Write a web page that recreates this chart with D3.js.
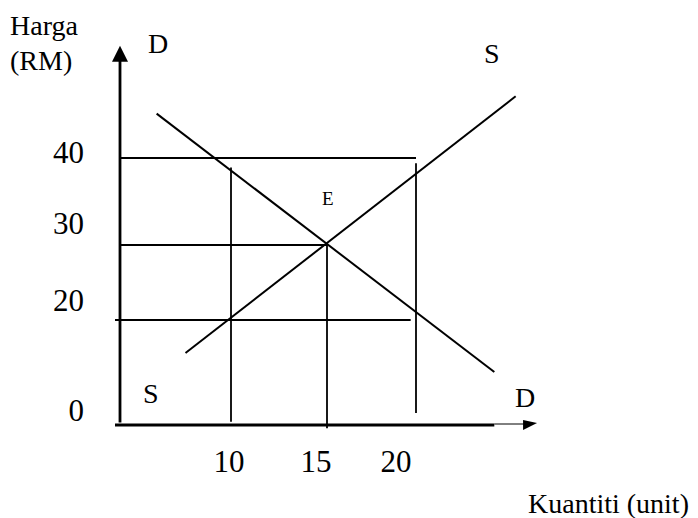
<!DOCTYPE html>
<html>
<head>
<meta charset="utf-8">
<script src="https://cdn.jsdelivr.net/npm/d3@7"></script>
<style>
  body { margin: 0; background: #fff; }
  svg text { font-family: "Liberation Serif", "Times New Roman", serif; fill: #000; }
</style>
</head>
<body>
<div id="chart"></div>
<script>
// tick values
var quantityTicks = [10, 15, 20];
var priceTicks = [0, 20, 30, 40];

// demand and supply lines (quantity, price at each end)
var demand = [{q: 3.3, p: 45.1}, {q: 24.4, p: 10.1}];
var supply = [{q: 5.9, p: 13.7}, {q: 25.6, p: 47.1}];

// dropped guide lines: price level with its quantity span, quantity level with its price span
var priceGuides = [
  {p: 40, from: 0, to: 20},
  {p: 30, from: 0, to: 15},
  {p: 20, from: -0.45, to: 19.7}
];
var quantityGuides = [
  {q: 10, from: 38.9, to: 0.6},
  {q: 15, from: 30, to: -0.6},
  {q: 20, from: 39.4, to: 2.3}
];

var width = 698,
    height = 518;

// hand drawn, so the spacing is not even
var x = d3.scaleLinear().domain([0, 10, 15, 20]).range([120, 231, 327, 416]);
var y = d3.scaleLinear().domain([0, 20, 30, 40]).range([425, 320, 245, 158]);

var svg = d3.select("#chart").append("svg")
    .attr("width", width)
    .attr("height", height);

var line = d3.line()
    .x(function(d) { return x(d.q); })
    .y(function(d) { return y(d.p); });

// guides
svg.selectAll(".hguide")
    .data(priceGuides)
    .enter().append("line")
    .attr("x1", function(d) { return x(d.from); })
    .attr("x2", function(d) { return x(d.to); })
    .attr("y1", function(d) { return y(d.p); })
    .attr("y2", function(d) { return y(d.p); })
    .attr("stroke", "#000")
    .attr("stroke-width", 1.8);

svg.selectAll(".vguide")
    .data(quantityGuides)
    .enter().append("line")
    .attr("x1", function(d) { return x(d.q); })
    .attr("x2", function(d) { return x(d.q); })
    .attr("y1", function(d) { return y(d.from); })
    .attr("y2", function(d) { return y(d.to); })
    .attr("stroke", "#000")
    .attr("stroke-width", 1.8);

// demand / supply
[demand, supply].forEach(function(s) {
  svg.append("path")
      .datum(s)
      .attr("d", line)
      .attr("fill", "none")
      .attr("stroke", "#000")
      .attr("stroke-width", 2);
});

// axes with arrowheads
var yTip = y(52.9), xTip = x(26.8);
svg.append("line")
    .attr("x1", x(0)).attr("x2", x(0))
    .attr("y1", y(0.5)).attr("y2", yTip + 12)
    .attr("stroke", "#000").attr("stroke-width", 2.8);
svg.append("path")
    .attr("d", "M" + x(0) + "," + yTip + "L" + (x(0) - 8) + "," + (yTip + 16) + "L" + (x(0) + 8) + "," + (yTip + 16) + "Z")
    .attr("fill", "#000");

svg.append("line")
    .attr("x1", x(-0.45)).attr("x2", x(24.4))
    .attr("y1", y(0)).attr("y2", y(0))
    .attr("stroke", "#000").attr("stroke-width", 2.8);
svg.append("line")
    .attr("x1", x(24.4)).attr("x2", xTip - 12)
    .attr("y1", y(0) - 1).attr("y2", y(0) - 1)
    .attr("stroke", "#000").attr("stroke-width", 1);
svg.append("path")
    .attr("d", "M" + xTip + "," + (y(0) - 2) + "L" + (xTip - 14) + "," + (y(0) - 5) + "L" + (xTip - 14) + "," + (y(0) + 5) + "Z")
    .attr("fill", "#000");

// tick labels, nudged to where they sit in the drawing
var priceNudge = {0: -15, 20: -20, 30: -22, 40: -6};
svg.selectAll(".ptick")
    .data(priceTicks)
    .enter().append("text")
    .attr("x", 84)
    .attr("y", function(d) { return y(d) + priceNudge[d]; })
    .attr("dy", "0.34em")
    .attr("text-anchor", "end")
    .style("font-size", "31px")
    .text(function(d) { return d; });

var quantityNudge = {10: -2, 15: -11, 20: -20};
svg.selectAll(".qtick")
    .data(quantityTicks)
    .enter().append("text")
    .attr("x", function(d) { return x(d) + quantityNudge[d]; })
    .attr("y", 472)
    .attr("text-anchor", "middle")
    .style("font-size", "31px")
    .text(function(d) { return d; });

// labels
var labels = [
  {t: "Harga", x: 10, y: 35, s: 28},
  {t: "(RM)", x: 10, y: 70, s: 28},
  {t: "D", x: 148, y: 53, s: 28},
  {t: "S", x: 484, y: 63, s: 28},
  {t: "E", x: 322, y: 205, s: 19},
  {t: "S", x: 143, y: 403, s: 28},
  {t: "D", x: 515, y: 407, s: 28},
  {t: "Kuantiti (unit)", x: 528, y: 513, s: 28}
];
svg.selectAll(".label")
    .data(labels)
    .enter().append("text")
    .attr("x", function(d) { return d.x; })
    .attr("y", function(d) { return d.y; })
    .style("font-size", function(d) { return d.s + "px"; })
    .text(function(d) { return d.t; });
</script>
</body>
</html>
